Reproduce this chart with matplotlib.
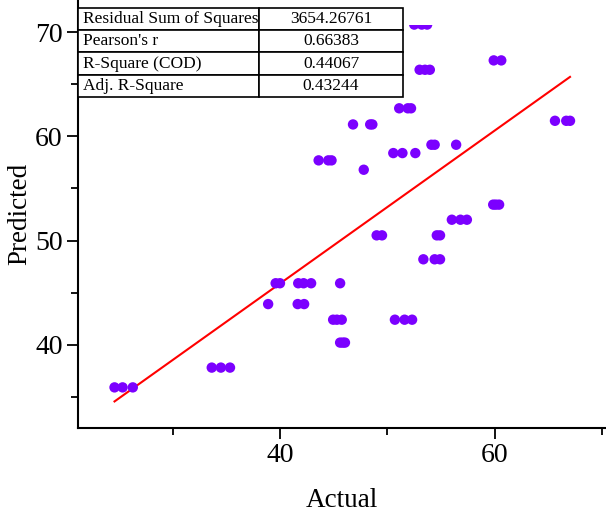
import numpy as np
import matplotlib
matplotlib.use('Agg')
import matplotlib.pyplot as plt
from matplotlib.patches import Rectangle
from matplotlib.ticker import MultipleLocator

plt.rcParams['font.family'] = ['Liberation Serif', 'DejaVu Serif']

# points (overlapping markers listed more than once)
actual = [24.6, 25.35, 26.3,
          33.65, 34.5, 35.35,
          38.9, 39.6, 40.0, 41.7, 42.2, 42.9, 45.6,
          41.65, 42.25,
          44.95, 45.3, 45.75,
          45.6, 45.85, 46.05,
          50.7, 51.6, 52.3,
          49.0, 49.5, 54.6, 54.9,
          53.35, 54.4, 54.9,
          56.0, 56.8, 57.4,
          59.85, 60.1, 60.4,
          43.6, 44.5, 44.8,
          47.8,
          46.8, 48.4, 48.6,
          50.55, 51.4, 52.6,
          51.1, 51.9, 52.2,
          54.1, 54.4, 56.4,
          53.0, 53.5, 53.95,
          59.9, 60.6,
          65.6, 66.65, 67.0,
          52.5, 53.2, 53.7]
predicted = [35.9, 35.9, 35.9,
             37.8, 37.8, 37.8,
             43.9, 45.9, 45.9, 45.9, 45.9, 45.9, 45.9,
             43.9, 43.9,
             42.4, 42.4, 42.4,
             40.2, 40.2, 40.2,
             42.4, 42.4, 42.4,
             50.5, 50.5, 50.5, 50.5,
             48.2, 48.2, 48.2,
             52.0, 52.0, 52.0,
             53.45, 53.45, 53.45,
             57.7, 57.7, 57.7,
             56.8,
             61.15, 61.15, 61.15,
             58.4, 58.4, 58.4,
             62.7, 62.7, 62.7,
             59.2, 59.2, 59.2,
             66.4, 66.4, 66.4,
             67.3, 67.3,
             61.5, 61.5, 61.5,
             70.74, 70.74, 70.74]

# linear fit as drawn in the reference
fit_intercept = 16.47
fit_slope = 0.735

stat_names = ['Residual Sum of Squares', "Pearson's r", 'R-Square (COD)', 'Adj. R-Square']
stat_values = ['3654.26761', '0.66383', '0.44067', '0.43244']

fig = plt.figure(figsize=(6.06, 5.18), dpi=100)
ax = fig.add_axes([78/606, 90/518, 528/606, 428/518])

sc = ax.scatter(actual, predicted, s=56, color='#7B00FF', edgecolors='none', zorder=3)
# the top cluster is cut off in the reference
sc.set_clip_path(Rectangle((20, 30), 60, 40.7, transform=ax.transData))

xs = np.array([min(actual), max(actual)])
ax.plot(xs, fit_intercept + fit_slope*xs, color='red', lw=1.5, zorder=2)

ax.set_xlim(21.2, 70.35)
ax.set_ylim(32.0, 73.1)
ax.xaxis.set_major_locator(MultipleLocator(20))
ax.xaxis.set_minor_locator(MultipleLocator(10))
ax.yaxis.set_major_locator(MultipleLocator(10))
ax.yaxis.set_minor_locator(MultipleLocator(5))
ax.tick_params(which='major', direction='out', length=8, width=1.3, labelsize=20, pad=3)
ax.tick_params(which='minor', direction='out', length=5, width=1.3)
for s in ['top', 'right']:
    ax.spines[s].set_visible(False)
for s in ['left', 'bottom']:
    ax.spines[s].set_linewidth(1.5)

ax.set_xlabel('Actual', fontsize=19.5, labelpad=14)
ax.set_ylabel('Predicted', fontsize=19.5)
ax.yaxis.set_label_coords(-0.086, 0.5)

cells = [[n, v] for n, v in zip(stat_names, stat_values)]
tb = ax.table(cellText=cells, cellLoc='center', colWidths=[0.557, 0.443],
              bbox=[0, 0.7734, 0.6155, 0.2079], zorder=5)
tb.auto_set_font_size(False)
for (r, c), cell in tb.get_celld().items():
    cell.set_linewidth(1.2)
    cell.set_facecolor('white')
    cell.get_text().set_fontsize(12.5)
    if c == 0:
        cell.get_text().set_horizontalalignment('left')
        cell.PAD = 0.03

fig.savefig('out.png', dpi=100)
